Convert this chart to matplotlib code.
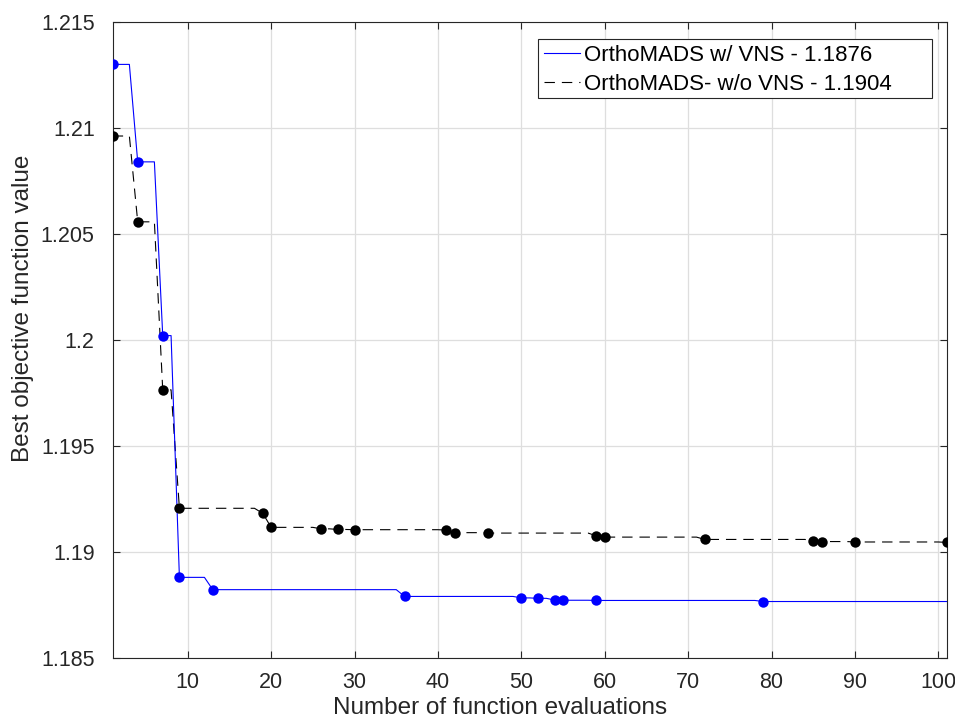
import numpy as np
import matplotlib
matplotlib.use("Agg")
import matplotlib.pyplot as plt
from matplotlib.patches import Rectangle
from matplotlib.ticker import FuncFormatter

# improvement points (evaluation number, best value found so far)
vns_evals = [1, 4, 7, 9, 13, 36, 50, 52, 54, 55, 59, 79]
vns_best = [1.2130, 1.2084, 1.2002, 1.18879, 1.18821, 1.18789, 1.18782,
            1.18780, 1.18772, 1.18771, 1.18770, 1.18765]

novns_evals = [1, 4, 7, 9, 19, 20, 26, 28, 30, 41, 42, 46, 59, 60, 72, 85, 86, 90, 101]
novns_best = [1.20962, 1.20557, 1.19764, 1.19205, 1.19181, 1.19115, 1.19108,
              1.19105, 1.19104, 1.19102, 1.19090, 1.19088, 1.19075, 1.19069,
              1.19058, 1.19052, 1.19048, 1.19046, 1.19044]

n_evals = 101
x_ticks = [10, 20, 30, 40, 50, 60, 70, 80, 90, 100]
y_ticks = [1.185, 1.19, 1.195, 1.2, 1.205, 1.21, 1.215]
labels = ["OrthoMADS w/ VNS - 1.1876", "OrthoMADS- w/o VNS - 1.1904"]


def best_so_far(evals, best, n):
    # value held at every evaluation = last improvement reached
    x = np.arange(1, n + 1)
    idx = np.searchsorted(evals, x, side="right") - 1
    return x, np.asarray(best)[idx]


plt.rcParams["font.family"] = ["Liberation Sans", "DejaVu Sans"]
plt.rcParams["lines.scale_dashes"] = False
axc = "#262626"

fig = plt.figure(figsize=(9.55, 7.22), dpi=100)
ax = fig.add_axes([0.118, 0.0891, 0.8733, 0.8804])

x1, y1 = best_so_far(vns_evals, vns_best, n_evals)
x2, y2 = best_so_far(novns_evals, novns_best, n_evals)

ax.plot(x2, y2, color="black", lw=0.8, dashes=(7.5, 5), label=labels[1], zorder=3)
ax.plot(x1, y1, color="blue", lw=0.8, label=labels[0], zorder=4)
ax.plot(vns_evals, vns_best, "o", color="blue", ms=7.5, mec="none", zorder=5)
ax.plot(novns_evals, novns_best, "o", color="black", ms=7.5, mec="none", zorder=5)

ax.set_xlim(1, 101)
ax.set_ylim(1.185, 1.215)
ax.set_xticks(x_ticks)
ax.set_yticks(y_ticks)
ax.yaxis.set_major_formatter(FuncFormatter(lambda v, p: "%g" % v))

ax.grid(True, color="#dedede", lw=0.9)
ax.set_axisbelow(True)
for s in ax.spines.values():
    s.set_color(axc)
    s.set_linewidth(0.8)
ax.tick_params(direction="in", length=5, width=0.8, color=axc, labelcolor=axc,
               labelsize=15.5, top=True, right=True)
ax.tick_params(axis="x", pad=10.5)
ax.tick_params(axis="y", pad=13)

ax.set_xlabel("Number of function evaluations", fontsize=17.5, color=axc, va="center")
ax.set_ylabel("Best objective function value", fontsize=17.5, color=axc,
              va="center", ha="center")
ax.xaxis.set_label_coords(0.4644, -0.079)
ax.yaxis.set_label_coords(-0.1076, 0.550)

# MATLAB-style legend box: wider than its contents on the right
ax.add_patch(Rectangle((0.510, 0.8805), 0.4724, 0.0928, transform=ax.transAxes,
                       facecolor="white", edgecolor=axc, lw=0.8, zorder=6))
h, l = ax.get_legend_handles_labels()
leg = ax.legend([h[1], h[0]], [l[1], l[0]], loc="upper left",
                bbox_to_anchor=(0.510, 0.9733), borderaxespad=0, fontsize=16,
                frameon=False, handlelength=1.6, handletextpad=0.2,
                borderpad=0.28, labelspacing=0.33)
leg.set_zorder(7)

fig.savefig("out.png", dpi=100)
